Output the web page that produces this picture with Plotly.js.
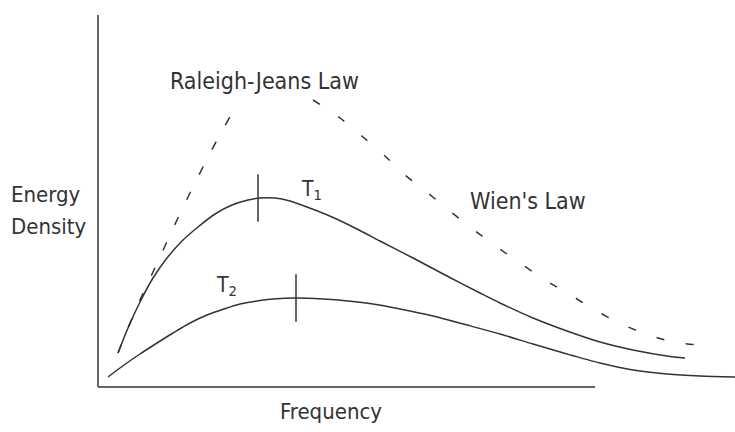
<!DOCTYPE html>
<html>
<head>
<meta charset="utf-8">
<script src="https://cdn.plot.ly/plotly-3.0.1.min.js"></script>
<style>html,body{margin:0;padding:0;background:#fff;}#chart{width:735px;height:432px;}</style>
</head>
<body>
<div id="chart"></div>
<script>
// Frequency (x) and energy density (y), in arbitrary units
var t1Freq   = [20, 30, 42, 55, 69, 84, 100, 117, 134, 150, 162, 177, 192, 209, 234, 259, 282, 315, 349, 382, 402, 435, 469, 502, 535, 569, 587];
var t1Energy = [34, 59, 85, 109, 129, 146, 160, 173, 182, 187, 189, 189, 186, 180, 170, 158, 146, 129, 111, 94, 84, 69, 56, 45, 37, 31, 29];

var t2Freq   = [10, 26, 42, 59, 75, 92, 109, 126, 142, 159, 175, 198, 225, 250, 275, 302, 335, 369, 402, 435, 469, 502, 535, 569, 602, 637];
var t2Energy = [10, 22, 33, 44, 54, 64, 72, 78, 83, 86, 88, 89, 88, 86, 83, 78, 71, 62, 53, 43, 33, 24, 17, 13, 11, 10];

var rjFreq   = [20, 30, 42, 55, 67, 79, 92, 105, 119, 134, 138];
var rjEnergy = [34, 59, 87, 115, 141, 167, 194, 220, 247, 274, 282];

var wienFreq   = [215, 242, 265, 287, 307, 330, 353, 376, 399, 422, 447, 471, 497, 521, 548, 575, 600];
var wienEnergy = [287, 269, 250, 231, 212, 194, 175, 157, 140, 124, 107, 93, 77, 64, 53, 45, 42];

// Peak markers of the two curves
var peakFreq   = [160, 198];
var peakEnergy = [189, 89];

var labels = {
  rj: 'Raleigh-Jeans Law',
  wien: "Wien's Law",
  t1: 'T<sub>1</sub>',
  t2: 'T<sub>2</sub>',
  yTitle1: 'Energy',
  yTitle2: 'Density',
  xTitle: 'Frequency'
};

var ink = '#333333';
var fontFam = '"DejaVu Sans Condensed", "DejaVu Sans", sans-serif';

var traces = [
  {x: rjFreq, y: rjEnergy, mode: 'lines', line: {color: ink, width: 1.5, dash: '9px,19px', shape: 'spline', smoothing: 0.8}, hoverinfo: 'skip'},
  {x: wienFreq, y: wienEnergy, mode: 'lines', line: {color: ink, width: 1.5, dash: '8px,22px', shape: 'spline', smoothing: 0.8}, hoverinfo: 'skip'},
  {x: t1Freq, y: t1Energy, mode: 'lines', line: {color: ink, width: 1.5, shape: 'spline', smoothing: 0.8}, hoverinfo: 'skip'},
  {x: t2Freq, y: t2Energy, mode: 'lines', line: {color: ink, width: 1.5, shape: 'spline', smoothing: 0.8}, hoverinfo: 'skip'},
  {x: peakFreq, y: peakEnergy, mode: 'markers', marker: {symbol: 'line-ns', size: 34, line: {color: ink, width: 1.5}}, hoverinfo: 'skip'}
];

function ann(text, x, y, xanchor, size) {
  return {text: text, x: x, y: y, xref: 'x', yref: 'y', showarrow: false,
          xanchor: xanchor || 'center', yanchor: 'middle',
          font: {family: fontFam, size: size || 23, color: ink}};
}

var layout = {
  width: 735, height: 432,
  margin: {l: 0, r: 0, t: 0, b: 0},
  paper_bgcolor: '#ffffff', plot_bgcolor: '#ffffff',
  showlegend: false,
  xaxis: {range: [-98, 637], visible: false, fixedrange: true},
  yaxis: {range: [-45, 387], visible: false, fixedrange: true},
  shapes: [
    {type: 'line', xref: 'x', yref: 'y', x0: 0, y0: 0, x1: 0, y1: 372, line: {color: '#666', width: 2}},
    {type: 'line', xref: 'x', yref: 'y', x0: 0, y0: 0, x1: 497, y1: 0, line: {color: '#666', width: 2}}
  ],
  annotations: [
    ann(labels.rj, 166, 306),
    ann(labels.wien, 430, 186),
    ann(labels.t1, 201, 197, 'left', 21),
    ann(labels.t2, 116, 101, 'left', 21),
    ann(labels.yTitle1, -89, 193, 'left', 22),
    ann(labels.yTitle2, -89, 161, 'left', 22),
    ann(labels.xTitle, 233, -24, 'center', 22)
  ]
};

Plotly.newPlot('chart', traces, layout, {staticPlot: true, displayModeBar: false});
</script>
</body>
</html>
